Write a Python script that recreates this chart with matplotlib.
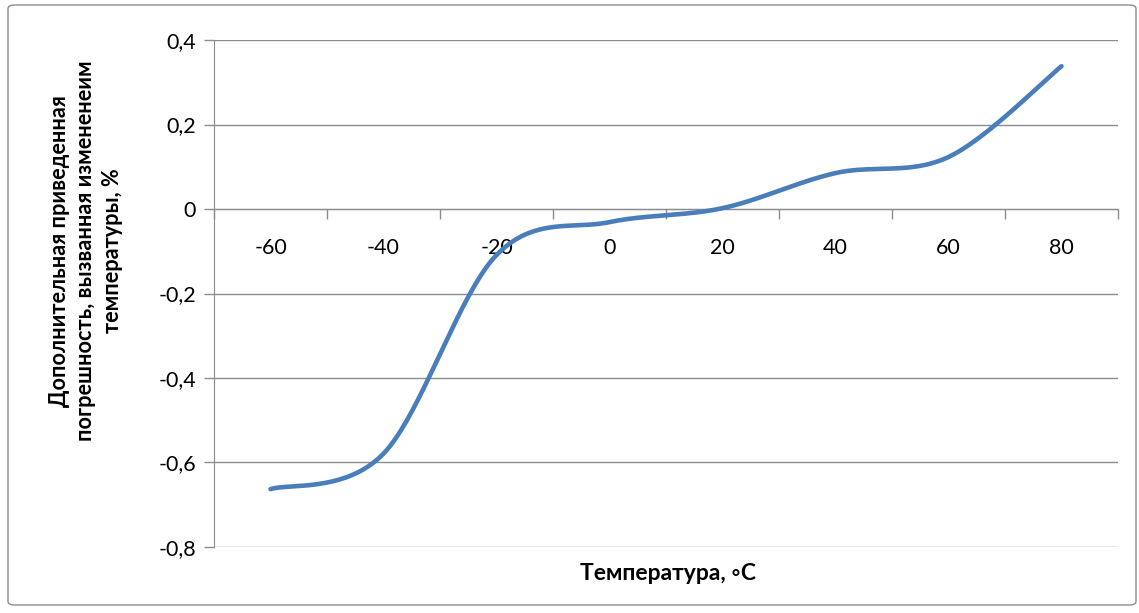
import numpy as np
import matplotlib
matplotlib.use("Agg")
import matplotlib.pyplot as plt
from matplotlib.patches import FancyBboxPatch

categories = ["-60", "-40", "-20", "0", "20", "40", "60", "80"]
values = [-0.663, -0.579, -0.109, -0.031, 0.002, 0.085, 0.123, 0.338]
y_ticks = [0.4, 0.2, 0.0, -0.2, -0.4, -0.6, -0.8]
y_tick_labels = ["0,4", "0,2", "0", "-0,2", "-0,4", "-0,6", "-0,8"]
x_label = "Температура, ◦С"
y_label = "Дополнительная приведенная\nпогрешность, вызванная измененеим\nтемпературы, %"

FONT = ["Lato", "DejaVu Sans"]
plt.rcParams["font.family"] = FONT


def smooth(xs, ys, n=40):
    # Excel-like smoothing (Bezier with 1/6 control offsets)
    xs = np.asarray(xs, float)
    ys = np.asarray(ys, float)
    px = np.concatenate([[xs[0]], xs, [xs[-1]]])
    py = np.concatenate([[ys[0]], ys, [ys[-1]]])
    ox, oy = [], []
    for i in range(1, len(px) - 2):
        p0 = np.array([px[i], py[i]])
        p1 = np.array([px[i + 1], py[i + 1]])
        c0 = p0 + (np.array([px[i + 1], py[i + 1]]) - np.array([px[i - 1], py[i - 1]])) / 6
        c1 = p1 - (np.array([px[i + 2], py[i + 2]]) - np.array([px[i], py[i]])) / 6
        t = np.linspace(0, 1, n)[:, None]
        b = ((1 - t) ** 3) * p0 + 3 * ((1 - t) ** 2) * t * c0 + 3 * (1 - t) * t ** 2 * c1 + t ** 3 * p1
        ox.extend(b[:, 0]); oy.extend(b[:, 1])
    return np.array(ox), np.array(oy)


fig = plt.figure(figsize=(11.39, 6.13), dpi=100)
W, H = 1139, 613
fig.patches.append(FancyBboxPatch((8 / W, 8 / H), 1128 / W, 600 / H,
                                  boxstyle="round,pad=0,rounding_size=0.006",
                                  transform=fig.transFigure, fill=False,
                                  edgecolor="#8c8c8c", linewidth=1.0))

ax = fig.add_axes([214 / W, 1 - 547 / H, (1118 - 214) / W, (547 - 40) / H])
x = np.arange(len(categories))
sx, sy = smooth(x, values)
ax.plot(sx, sy, color="#4A7EBB", linewidth=3.3, solid_capstyle="round", zorder=3)

ax.set_xlim(-0.5, len(categories) - 0.5)
ax.set_ylim(-0.8, 0.4)

grid_c = "#8c8c8c"
for yv in y_ticks:
    ax.axhline(yv, color=grid_c, linewidth=1.0, zorder=1)

ax.set_yticks(y_ticks)
ax.set_yticklabels(y_tick_labels)
ax.tick_params(axis="y", length=7, width=1.0, color=grid_c, pad=6, labelsize=15.5)

ax.set_xticks(np.arange(-0.5, len(categories), 1.0))
ax.set_xticklabels([])
ax.set_xticks(x, minor=True)
ax.set_xticklabels(categories, minor=True)
ax.tick_params(axis="x", which="major", length=7, width=1.0, color=grid_c, direction="out")
ax.tick_params(axis="x", which="minor", length=0, pad=21, labelsize=15.5)

for s in ["top", "right"]:
    ax.spines[s].set_visible(False)
ax.spines["left"].set_color(grid_c)
ax.spines["bottom"].set_color(grid_c)
ax.spines["bottom"].set_position(("data", 0))

fig.text(668 / W, 1 - 574 / H, x_label, ha="center", va="center",
         fontsize=16.5, fontweight="bold", family=FONT)
fig.text(86 / W, 1 - 251 / H, y_label, ha="center", va="center", rotation=90,
         fontsize=15.6, fontweight="bold", family=FONT, linespacing=1.3,
         multialignment="center")

fig.savefig("out.png", dpi=100)
